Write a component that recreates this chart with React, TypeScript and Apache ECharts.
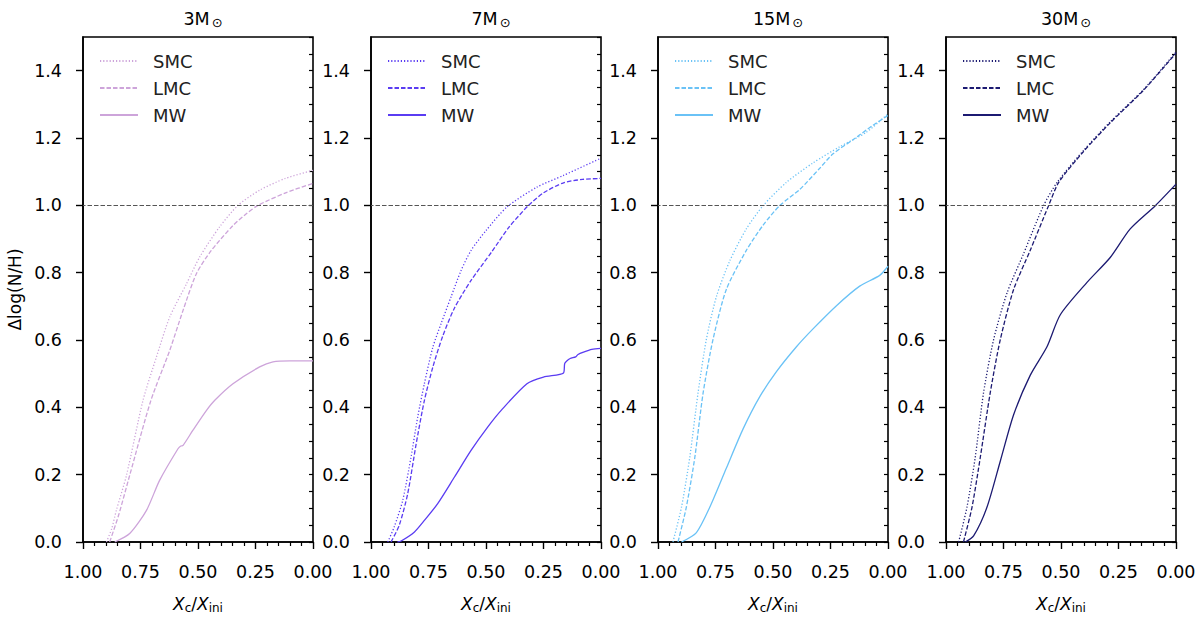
import React, { useEffect, useRef } from 'react';
import * as echarts from 'echarts';

// panel titles (mass) and colours
const masses = ['3', '7', '15', '30'];
const colors = ['#cda4da', '#5a3cf2', '#6ac2f6', '#1c1a72'];
const groups = ['SMC', 'LMC', 'MW'];

// x = X_c/X_ini, y = Δlog(N/H)
const x3Smc = [0.898, 0.875, 0.855, 0.811, 0.739, 0.681, 0.623, 0.55, 0.493, 0.406, 0.326, 0.232, 0.12, 0.0];
const y3Smc = [0.0, 0.04, 0.094, 0.198, 0.421, 0.549, 0.668, 0.767, 0.846, 0.936, 1.0, 1.045, 1.08, 1.104];
const x3Lmc = [0.884, 0.845, 0.797, 0.705, 0.623, 0.565, 0.507, 0.442, 0.348, 0.29, 0.239, 0.116, 0.0];
const y3Lmc = [0.0, 0.08, 0.198, 0.42, 0.569, 0.688, 0.797, 0.866, 0.94, 0.975, 1.0, 1.038, 1.065];
const x3Mw = [0.862, 0.797, 0.724, 0.667, 0.587, 0.575, 0.565, 0.522, 0.463, 0.427, 0.348, 0.232, 0.174, 0.1, 0.0];
const y3Mw = [0.0, 0.025, 0.094, 0.183, 0.277, 0.285, 0.287, 0.332, 0.391, 0.421, 0.47, 0.52, 0.535, 0.538, 0.538];

const x7Smc = [0.927, 0.899, 0.862, 0.826, 0.797, 0.768, 0.731, 0.695, 0.652, 0.608, 0.565, 0.5, 0.409, 0.279, 0.163, 0.0];
const y7Smc = [0.0, 0.045, 0.124, 0.252, 0.371, 0.47, 0.579, 0.649, 0.728, 0.807, 0.866, 0.925, 0.995, 1.054, 1.089, 1.14];
const x7Lmc = [0.913, 0.877, 0.84, 0.804, 0.768, 0.731, 0.688, 0.637, 0.565, 0.475, 0.4, 0.315, 0.25, 0.163, 0.08, 0.0];
const y7Lmc = [0.0, 0.05, 0.145, 0.29, 0.42, 0.52, 0.612, 0.695, 0.777, 0.862, 0.935, 1.0, 1.037, 1.067, 1.077, 1.08];
const x7Mw = [0.885, 0.869, 0.811, 0.768, 0.71, 0.637, 0.565, 0.492, 0.434, 0.322, 0.25, 0.163, 0.158, 0.15, 0.134, 0.11, 0.1, 0.076, 0.04, 0.0];
const y7Mw = [0.0, 0.003, 0.03, 0.064, 0.114, 0.193, 0.272, 0.342, 0.391, 0.47, 0.49, 0.502, 0.53, 0.537, 0.545, 0.55, 0.557, 0.564, 0.572, 0.575];

const x15Smc = [0.935, 0.898, 0.862, 0.826, 0.79, 0.746, 0.688, 0.616, 0.543, 0.442, 0.326, 0.21, 0.094, 0.0];
const y15Smc = [0.0, 0.103, 0.251, 0.442, 0.601, 0.729, 0.835, 0.93, 0.999, 1.068, 1.126, 1.174, 1.217, 1.272];
const x15Lmc = [0.913, 0.877, 0.84, 0.804, 0.761, 0.703, 0.616, 0.543, 0.471, 0.384, 0.297, 0.239, 0.152, 0.065, 0.0];
const y15Lmc = [0.0, 0.103, 0.251, 0.442, 0.601, 0.75, 0.866, 0.941, 0.999, 1.047, 1.11, 1.153, 1.195, 1.238, 1.267];
const x15Mw = [0.898, 0.833, 0.775, 0.703, 0.63, 0.558, 0.485, 0.398, 0.326, 0.224, 0.123, 0.036, 0.0];
const y15Mw = [0.0, 0.028, 0.103, 0.219, 0.336, 0.431, 0.506, 0.58, 0.633, 0.702, 0.76, 0.792, 0.819];

const x30Smc = [0.945, 0.909, 0.873, 0.837, 0.793, 0.735, 0.663, 0.576, 0.517, 0.402, 0.286, 0.141, 0.0];
const y30Smc = [0.0, 0.103, 0.251, 0.442, 0.601, 0.739, 0.856, 0.999, 1.068, 1.163, 1.248, 1.344, 1.455];
const x30Lmc = [0.924, 0.887, 0.851, 0.808, 0.764, 0.706, 0.634, 0.554, 0.51, 0.402, 0.286, 0.141, 0.0];
const y30Lmc = [0.0, 0.103, 0.251, 0.442, 0.601, 0.75, 0.866, 0.999, 1.068, 1.16, 1.245, 1.342, 1.452];
const x30Mw = [0.916, 0.88, 0.822, 0.764, 0.706, 0.634, 0.561, 0.503, 0.387, 0.286, 0.199, 0.09, 0.0];
const y30Mw = [0.0, 0.018, 0.103, 0.24, 0.378, 0.495, 0.58, 0.675, 0.771, 0.845, 0.93, 0.999, 1.063];

const xTicks = [0, 0.25, 0.5, 0.75, 1];
const yTicks = [0, 0.2, 0.4, 0.6, 0.8, 1.0, 1.2, 1.4];

const curves = [
  [[x3Smc, y3Smc], [x3Lmc, y3Lmc], [x3Mw, y3Mw]],
  [[x7Smc, y7Smc], [x7Lmc, y7Lmc], [x7Mw, y7Mw]],
  [[x15Smc, y15Smc], [x15Lmc, y15Lmc], [x15Mw, y15Mw]],
  [[x30Smc, y30Smc], [x30Lmc, y30Lmc], [x30Mw, y30Mw]],
];

const FONT = 'DejaVu Sans';
const GRID_LEFT = [83, 371, 658, 946];
const GRID_W = 230;
const GRID_TOP = 37;
const GRID_H = 505;
const lineTypes: any[] = [[1.2, 2], [4.5, 2], 'solid'];

const App: React.FC = () => {
  const chartRef = useRef<HTMLDivElement>(null);

  useEffect(() => {
    if (!chartRef.current) return undefined;
    const chart = echarts.init(chartRef.current, null, { renderer: 'svg' });

    const grid = GRID_LEFT.map((left) => ({
      left,
      top: GRID_TOP,
      width: GRID_W,
      height: GRID_H,
      show: true,
      borderColor: '#000',
      borderWidth: 1.6,
      backgroundColor: 'transparent',
    }));

    const xAxis = GRID_LEFT.map((_, i) => ({
      type: 'value',
      gridIndex: i,
      min: 0,
      max: 1,
      interval: 0.25,
      inverse: true,
      axisLine: { show: true, onZero: false, lineStyle: { color: '#000', width: 1.6 } },
      axisTick: { show: true, length: 7, customValues: xTicks, lineStyle: { color: '#000', width: 1.4 } },
      minorTick: { show: true, splitNumber: 5, length: 4, lineStyle: { color: '#000', width: 1.2 } },
      splitLine: { show: false },
      axisLabel: {
        margin: 21,
        customValues: xTicks,
        formatter: (v: number) => v.toFixed(2),
        fontSize: 17.5,
        fontFamily: FONT,
        color: '#000',
      },
      name: '{i|X}{s|c}{n|/}{i|X}{s|ini}',
      nameLocation: 'middle',
      nameGap: 52,
      nameTextStyle: {
        fontFamily: FONT,
        fontSize: 17,
        color: '#000',
        rich: {
          i: { fontFamily: FONT, fontSize: 17, fontStyle: 'italic', color: '#000' },
          n: { fontFamily: FONT, fontSize: 17, color: '#000' },
          s: { fontFamily: FONT, fontSize: 12, color: '#000', padding: [8, 0, 0, 0] },
        },
      },
    }));

    const yAxis: any[] = [];
    GRID_LEFT.forEach((_, i) => {
      yAxis.push({
        type: 'value',
        gridIndex: i,
        position: 'left',
        min: 0,
        max: 1.5,
        interval: 0.1,
        axisLine: { show: true, onZero: false, lineStyle: { color: '#000', width: 1.6 } },
        axisTick: { show: true, length: 7, customValues: yTicks, lineStyle: { color: '#000', width: 1.4 } },
        splitLine: { show: false },
        axisLabel: {
          margin: 21,
          customValues: yTicks,
          formatter: (v: number) => v.toFixed(1),
          fontSize: 17.5,
          fontFamily: FONT,
          color: '#000',
        },
        name: i === 0 ? 'Δlog(N/H)' : '',
        nameLocation: 'middle',
        nameGap: 60,
        nameTextStyle: { fontFamily: FONT, fontSize: 17, color: '#000' },
      });
      yAxis.push({
        type: 'value',
        gridIndex: i,
        position: 'left',
        min: 0,
        max: 1.5,
        interval: 0.05,
        axisLine: { show: false },
        axisTick: { show: true, length: 4, lineStyle: { color: '#000', width: 1.2 } },
        axisLabel: { show: false },
        splitLine: { show: false },
      });
    });

    const series: any[] = [];
    curves.forEach((panel, i) => {
      panel.forEach(([xs, ys], k) => {
        series.push({
          type: 'line',
          name: `${groups[k]} ${masses[i]}`,
          xAxisIndex: i,
          yAxisIndex: 2 * i,
          data: xs.map((x, j) => [x, ys[j]]),
          symbol: 'none',
          smooth: 0.25,
          color: colors[i],
          lineStyle: { color: colors[i], width: 1.3, type: lineTypes[k] },
          markLine:
            k === 2
              ? {
                  silent: true,
                  symbol: ['none', 'none'],
                  label: { show: false },
                  lineStyle: { color: '#555', width: 1.2, type: [4.5, 2] },
                  data: [{ yAxis: 1 }],
                }
              : undefined,
        });
      });
    });

    const legend = GRID_LEFT.map((left, i) => ({
      data: groups.map((g) => `${g} ${masses[i]}`),
      orient: 'vertical',
      left: left + 11,
      top: 47,
      itemWidth: 38,
      itemHeight: 14,
      itemGap: 9,
      selectedMode: false,
      itemStyle: { opacity: 0 },
      formatter: (name: string) => name.split(' ')[0],
      textStyle: { fontFamily: FONT, fontSize: 18, color: '#222', padding: [0, 0, 0, 10] },
    }));

    const title = GRID_LEFT.map((left, i) => ({
      text: `{a|${masses[i]}M}{b|⊙}`,
      left: left + GRID_W / 2,
      textAlign: 'center',
      top: 4,
      textStyle: {
        fontWeight: 'normal',
        rich: {
          a: { fontFamily: FONT, fontSize: 17.5, fontWeight: 'normal', color: '#000' },
          b: { fontFamily: FONT, fontSize: 13, fontWeight: 'normal', color: '#000', padding: [7, 0, 0, 2] },
        },
      },
    }));

    chart.setOption({
      animation: false,
      backgroundColor: '#fff',
      grid,
      xAxis,
      yAxis,
      series,
      legend,
      title,
    });

    return () => {
      chart.dispose();
    };
  }, []);

  return (
    <div
      ref={chartRef}
      style={{ position: 'fixed', left: 0, top: 0, width: '1200px', height: '619px' }}
    />
  );
};

export default App;
